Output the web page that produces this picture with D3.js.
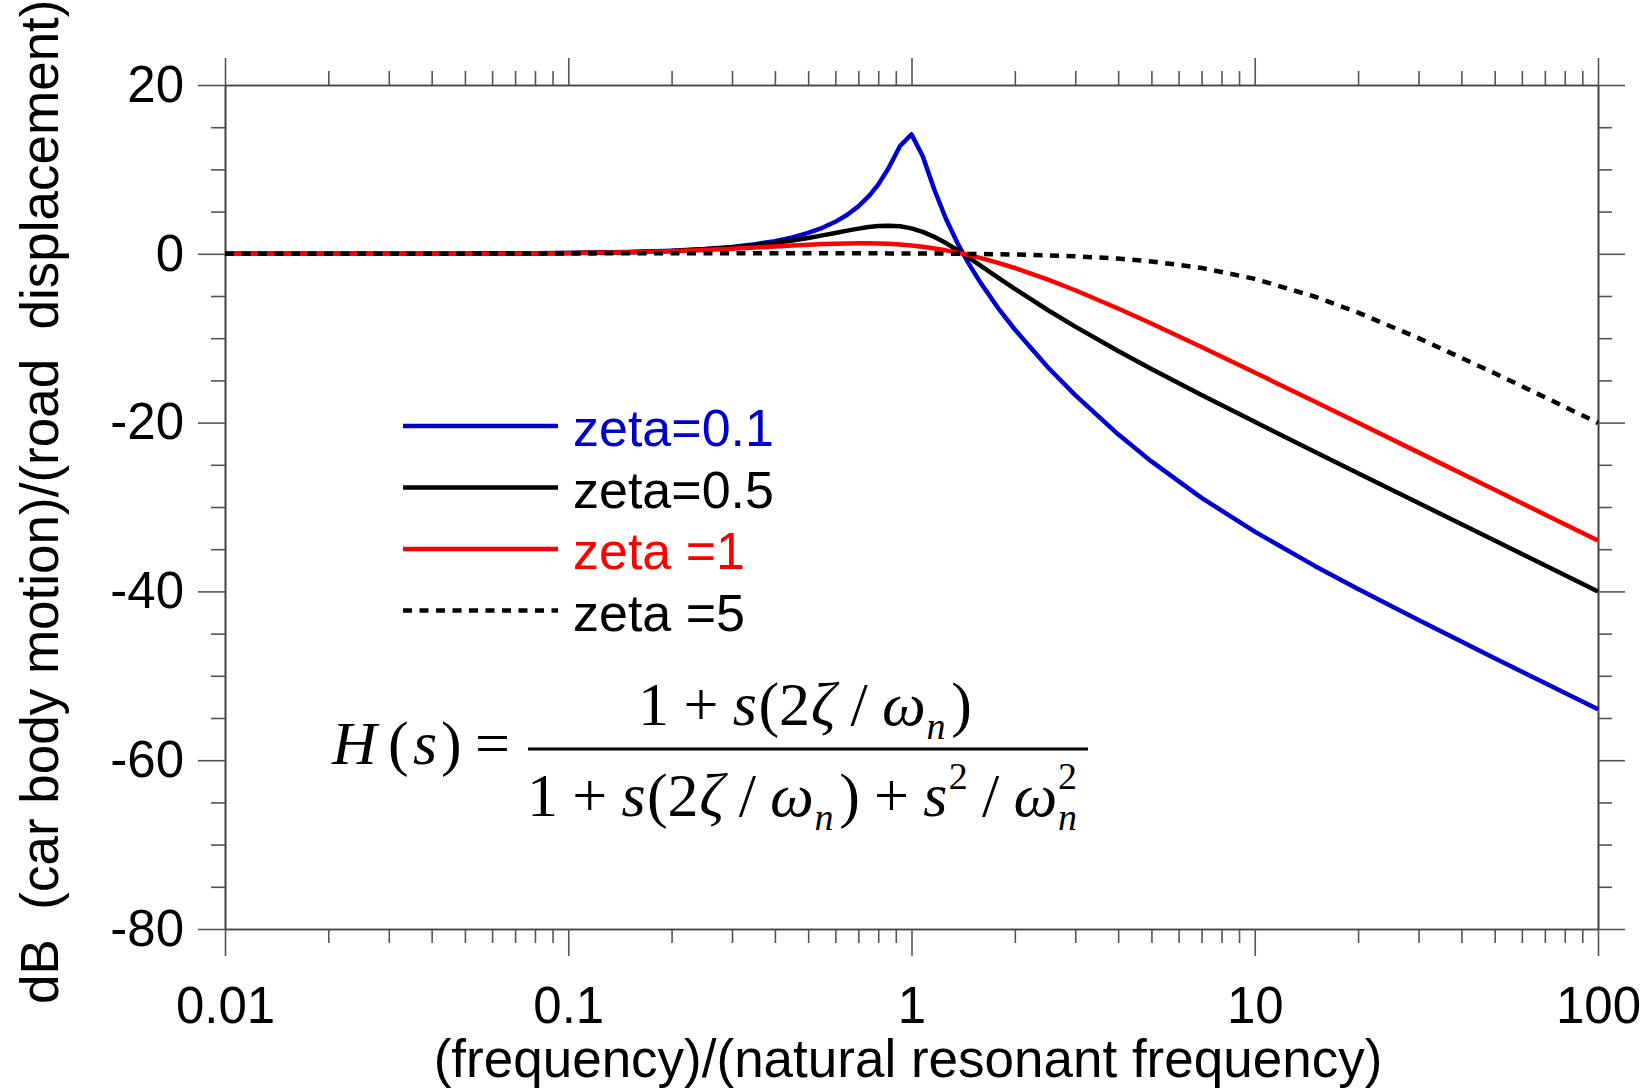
<!DOCTYPE html>
<html>
<head>
<title>Suspension response | D3</title>
<script src="https://d3js.org/d3.v7.min.js" charset="utf-8"></script>
<style>
 body { margin: 0; background: white; }
 svg text { font-family: "Liberation Sans", Arial, sans-serif; }
 .eq text { font-family: "Liberation Serif", "Times New Roman", serif; }
</style>
</head>
<body>
<script>
// size of the picture
var width = 1648;
var height = 1091;

// normalised frequency (w / wn) where the curves were read
var freq = [0.01, 0.02, 0.05, 0.1, 0.15, 0.2, 0.25, 0.3, 0.35, 0.4, 0.45, 0.5, 0.55, 0.6, 0.65, 0.7, 0.75, 0.8, 0.858, 0.926,
  1.0, 1.078, 1.166, 1.26, 1.36, 1.468, 1.585, 1.8, 2, 2.5, 3, 4, 5, 7, 10, 15, 20, 30, 50, 70, 100];

// dB values
var zeta01 = [0.00, 0.00, 0.02, 0.09, 0.20, 0.35, 0.56, 0.82, 1.14, 1.50, 1.95, 2.47, 3.08, 3.79, 4.63, 5.62, 6.79, 8.20, 10.17, 12.77,
  14.15, 11.58, 7.59, 4.15, 1.30, -1.16, -3.36, -6.59, -8.97, -13.47, -16.75, -21.39, -24.60, -28.92, -32.92, -37.01, -39.72, -43.39, -47.91, -50.86, -53.97];
var zeta05 = [0.00, 0.00, 0.02, 0.09, 0.19, 0.34, 0.53, 0.75, 1.01, 1.27, 1.57, 1.87, 2.18, 2.47, 2.75, 2.98, 3.17, 3.29, 3.33, 3.26,
  3.01, 2.60, 2.00, 1.27, 0.45, -0.44, -1.36, -2.90, -4.15, -6.69, -8.63, -11.52, -13.64, -16.73, -19.91, -23.48, -26.00, -29.53, -33.98, -36.90, -40.00];
var zeta1 = [0.00, 0.00, 0.02, 0.08, 0.18, 0.30, 0.44, 0.59, 0.74, 0.86, 0.98, 1.07, 1.15, 1.20, 1.23, 1.25, 1.24, 1.22, 1.18, 1.09,
  0.97, 0.83, 0.63, 0.41, 0.15, -0.15, -0.48, -1.10, -1.68, -3.06, -4.32, -6.48, -8.26, -11.04, -14.06, -17.54, -20.02, -23.53, -27.96, -30.88, -33.98];
var zeta5 = [0.00, 0.00, 0.02, 0.04, 0.06, 0.07, 0.07, 0.08, 0.08, 0.08, 0.08, 0.07, 0.07, 0.07, 0.07, 0.07, 0.06, 0.06, 0.05, 0.05,
  0.04, 0.04, 0.03, 0.02, 0.01, -0.01, -0.02, -0.05, -0.09, -0.18, -0.29, -0.57, -0.90, -1.67, -2.97, -5.09, -6.97, -9.99, -14.15, -16.99, -20.04];

var xTicks = [0.01, 0.1, 1, 10, 100];
var xTickLabels = ["0.01", "0.1", "1", "10", "100"];
var yTicks = [20, 0, -20, -40, -60, -80];
var legendLabels = ["zeta=0.1", "zeta=0.5", "zeta =1", "zeta =5"];

var xTitle = "(frequency)/(natural resonant frequency)";
var yTitle = "dB  (car body motion)/(road  displacement)";

var plotL = 225, plotR = 1598, plotT = 85, plotB = 929;

var svg = d3.select("body")
  .append("svg")
  .attr("width", width)
  .attr("height", height);

var x = d3.scaleLog().domain([0.01, 100]).range([plotL, plotR]);
var y = d3.scaleLinear().domain([-80, 20]).range([plotB, plotT]);

// minor ticks: 2..9 in each decade, every 5 dB
var minorX = [];
[0.01, 0.1, 1, 10].forEach(function(dec) {
  for (var k = 2; k < 10; k++) minorX.push(dec * k);
});
var minorY = d3.range(-80, 21, 5).filter(function(v) { return v % 20 !== 0; });

function styleAxis(g) {
  g.select(".domain").attr("stroke", "#444").attr("stroke-width", 1.6);
  g.selectAll(".tick line").attr("stroke", "#555").attr("stroke-width", 1.6);
  g.selectAll("text")
    .attr("font-family", "'Liberation Sans', Arial, sans-serif")
    .attr("font-size", 51)
    .attr("fill", "black");
}

// bottom axis
svg.append("g").attr("transform", "translate(0," + plotB + ")")
  .call(d3.axisBottom(x).tickValues(minorX).tickSize(14).tickFormat("").tickSizeOuter(0))
  .call(styleAxis);
svg.append("g").attr("transform", "translate(0," + plotB + ")")
  .call(d3.axisBottom(x).tickValues(xTicks).tickSize(27).tickPadding(31).tickSizeOuter(0)
    .tickFormat(function(d, i) { return xTickLabels[i]; }))
  .call(styleAxis);

// top axis
svg.append("g").attr("transform", "translate(0," + plotT + ")")
  .call(d3.axisTop(x).tickValues(minorX).tickSize(14).tickFormat("").tickSizeOuter(0))
  .call(styleAxis);
svg.append("g").attr("transform", "translate(0," + plotT + ")")
  .call(d3.axisTop(x).tickValues(xTicks).tickSize(27).tickFormat("").tickSizeOuter(0))
  .call(styleAxis);

// left axis
svg.append("g").attr("transform", "translate(" + plotL + ",0)")
  .call(d3.axisLeft(y).tickValues(minorY).tickSize(14).tickFormat("").tickSizeOuter(0))
  .call(styleAxis);
svg.append("g").attr("transform", "translate(" + plotL + ",0)")
  .call(d3.axisLeft(y).tickValues(yTicks).tickSize(27).tickPadding(14).tickSizeOuter(0)
    .tickFormat(function(d) { return String(d); }))
  .call(styleAxis);

// right axis
svg.append("g").attr("transform", "translate(" + plotR + ",0)")
  .call(d3.axisRight(y).tickValues(minorY).tickSize(14).tickFormat("").tickSizeOuter(0))
  .call(styleAxis);
svg.append("g").attr("transform", "translate(" + plotR + ",0)")
  .call(d3.axisRight(y).tickValues(yTicks).tickSize(27).tickFormat("").tickSizeOuter(0))
  .call(styleAxis);

// curves, drawn so the red and dashed lines end up on top at low frequency
var series = [
  { vals: zeta01, color: "#0000cc", dash: null, label: legendLabels[0] },
  { vals: zeta05, color: "#000000", dash: null, label: legendLabels[1] },
  { vals: zeta1, color: "#ff0000", dash: null, label: legendLabels[2] },
  { vals: zeta5, color: "#000000", dash: "9,7.5", label: legendLabels[3] }
];

var line = d3.line()
  .x(function(d, i) { return x(freq[i]); })
  .y(function(d) { return y(d); });

svg.append("g").selectAll("path")
  .data(series)
  .enter()
  .append("path")
  .attr("fill", "none")
  .attr("stroke", function(d) { return d.color; })
  .attr("stroke-width", 4.5)
  .attr("stroke-linejoin", "round")
  .attr("stroke-dasharray", function(d) { return d.dash; })
  .attr("d", function(d) { return line(d.vals); });

// legend
var legend = svg.append("g");
series.forEach(function(s, i) {
  var ly = 426 + i * 61.5;
  legend.append("line")
    .attr("x1", 403).attr("x2", 558)
    .attr("y1", ly).attr("y2", ly)
    .attr("stroke", s.color)
    .attr("stroke-width", 4.5)
    .attr("stroke-dasharray", s.dash);
  legend.append("text")
    .attr("x", 573).attr("y", ly + 20)
    .attr("font-size", 52)
    .attr("fill", s.color === "#000000" ? "black" : s.color)
    .text(s.label);
});

// transfer function: glyphs laid out one after another, gaps stretched to the given width
var eq = svg.append("g").attr("class", "eq");
var bigSize = 62, smallSize = 38;

// part: [text, italic, kind ('' | 'sub' | 'sup' | 'over'), gap before (relative)]
function mathRow(parts, x0, baseline, target) {
  var items = parts.map(function(p) {
    var small = p[2] !== "";
    var dy = p[2] === "sub" ? 14 : (p[2] === "sup" || p[2] === "over") ? -27 : 0;
    var t = eq.append("text")
      .attr("y", baseline + dy)
      .attr("font-size", small ? smallSize : bigSize)
      .attr("font-style", p[1] ? "italic" : null)
      .text(p[0]);
    return { node: t, w: t.node().getComputedTextLength(), kind: p[2], gap: p[3] };
  });
  var glyphW = 0, gapSum = 0;
  items.forEach(function(it) {
    if (it.kind !== "over") { glyphW += it.w; gapSum += it.gap; }
  });
  var unit = target ? (target - glyphW) / gapSum : 10;
  var cx = x0, prev = null;
  items.forEach(function(it) {
    if (it.kind === "over") {
      it.node.attr("x", prev.x);
      return;
    }
    cx += it.gap * unit;
    it.x = cx;
    it.node.attr("x", cx);
    cx += it.w;
    prev = it;
  });
}

// left hand side
[["H", 1, 332], ["(", 0, 388], ["s", 1, 413], [")", 0, 441], ["=", 0, 475]].forEach(function(p) {
  eq.append("text").attr("x", p[2]).attr("y", 764)
    .attr("font-size", bigSize)
    .attr("font-style", p[1] ? "italic" : null)
    .text(p[0]);
});

mathRow([["1", 0, "", 0], ["+", 0, "", 1], ["s", 1, "", 1], ["(", 0, "", 0.1], ["2", 0, "", 0], ["ζ", 1, "", 0.05],
  ["/", 0, "", 1], ["ω", 1, "", 1], ["n", 1, "sub", 0.05], [")", 0, "", 0.4]], 638, 725, 334);

eq.append("line")
  .attr("x1", 528).attr("x2", 1088)
  .attr("y1", 749).attr("y2", 749)
  .attr("stroke", "black").attr("stroke-width", 3);

mathRow([["1", 0, "", 0], ["+", 0, "", 1], ["s", 1, "", 1], ["(", 0, "", 0.1], ["2", 0, "", 0], ["ζ", 1, "", 0.05],
  ["/", 0, "", 1], ["ω", 1, "", 1], ["n", 1, "sub", 0.05], [")", 0, "", 0.4], ["+", 0, "", 1], ["s", 1, "", 1],
  ["2", 0, "sup", 0.1], ["/", 0, "", 1], ["ω", 1, "", 1], ["n", 1, "sub", 0.05], ["2", 0, "over", 0]], 527, 816, 550);

// axis titles
svg.append("text")
  .attr("x", 908).attr("y", 1077)
  .attr("text-anchor", "middle")
  .attr("font-size", 53)
  .text(xTitle);

svg.append("text")
  .attr("transform", "translate(58,1004) rotate(-90)")
  .attr("font-size", 53)
  .style("white-space", "pre")
  .text(yTitle);
</script>
</body>
</html>
